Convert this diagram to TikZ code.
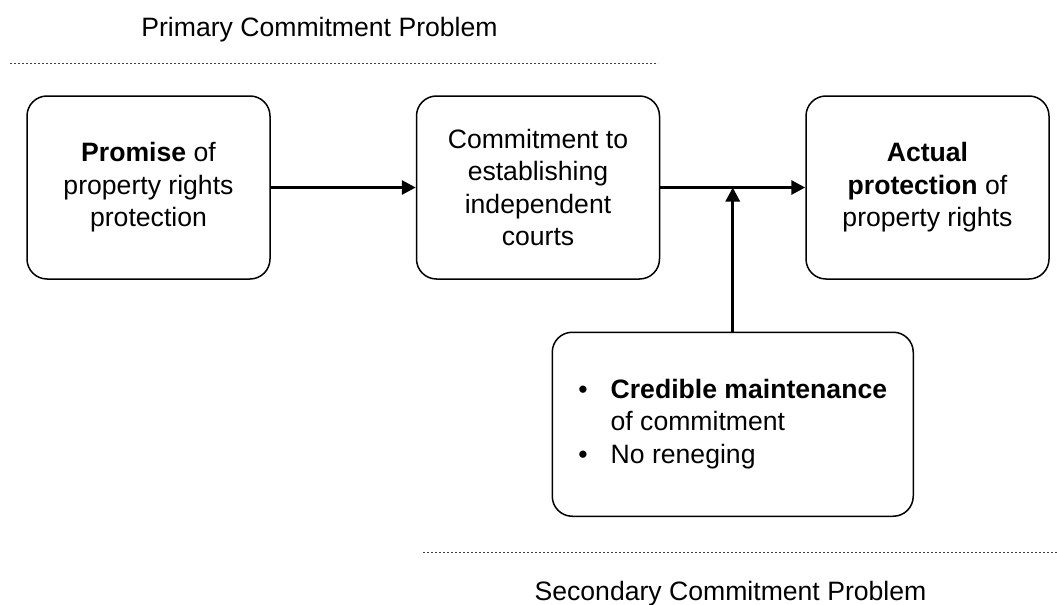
\documentclass[tikz,border=0pt]{standalone}
\usepackage{fontspec}
\setmainfont{Liberation Sans}
\usepackage{tikz}
\usetikzlibrary{arrows.meta,positioning,calc}
\tikzset{
    flow/.style={-{Triangle[length=7pt, width=7pt]}, line width=1.5pt},
    stagebox/.style={draw, rounded corners=10pt, line width=0.75pt, minimum width=121.5pt, minimum height=91.5pt, align=center, inner sep=3pt},
    divider/.style={dash pattern=on 1.2pt off 0.8pt, line width=0.5pt, black!75},
    caption/.style={anchor=base}
}

\begin{document}
\begin{tikzpicture}[x=0.5pt, y=-0.5pt, node distance=72.5pt, font=\fontsize{13.3}{16.2}\selectfont]
                    \useasboundingbox (0,0) rectangle (1057,605);
                    \node[stagebox] (promise) at (148.5,187.5) {\textbf{Promise} of\\property rights\\protection};
                    \node[stagebox, right=of promise] (courts) {Commitment to\\establishing\\independent\\courts};
                    \node[stagebox, right=of courts] (actual) {\textbf{Actual}\\\textbf{protection} of\\property rights};
                    \coordinate (jn) at ($(courts.east)!0.5!(actual.west)$);
                    \node[stagebox, minimum width=180.5pt, minimum height=92pt, below=72pt of jn] (maint) {%
                        \begin{tabular}{@{}l@{\hspace{11.5pt}}l@{}}
                        \textbullet & \textbf{Credible maintenance}\\
                                    & of commitment\\
                        \textbullet & No reneging
                        \end{tabular}};
                    
                    \draw[flow] (promise) -- (courts);
                    \draw[flow] (courts) -- (actual);
                    \draw[flow] (maint) -- (jn);
                    
                    % the two commitment problems
                    \coordinate (ptl) at (10,63);
                    \coordinate (ptr) at (658,63);
                    \coordinate (sbl) at (423,552);
                    \coordinate (sbr) at (1057,552);
                    \draw[divider] (ptl) -- (ptr);
                    \draw[divider] (sbl) -- (sbr);
                    \node[caption] (primary) at (319.5,36) {Primary Commitment Problem};
                    \node[caption] (secondary) at (730.5,600) {Secondary Commitment Problem};
                \end{tikzpicture}
\end{document}
